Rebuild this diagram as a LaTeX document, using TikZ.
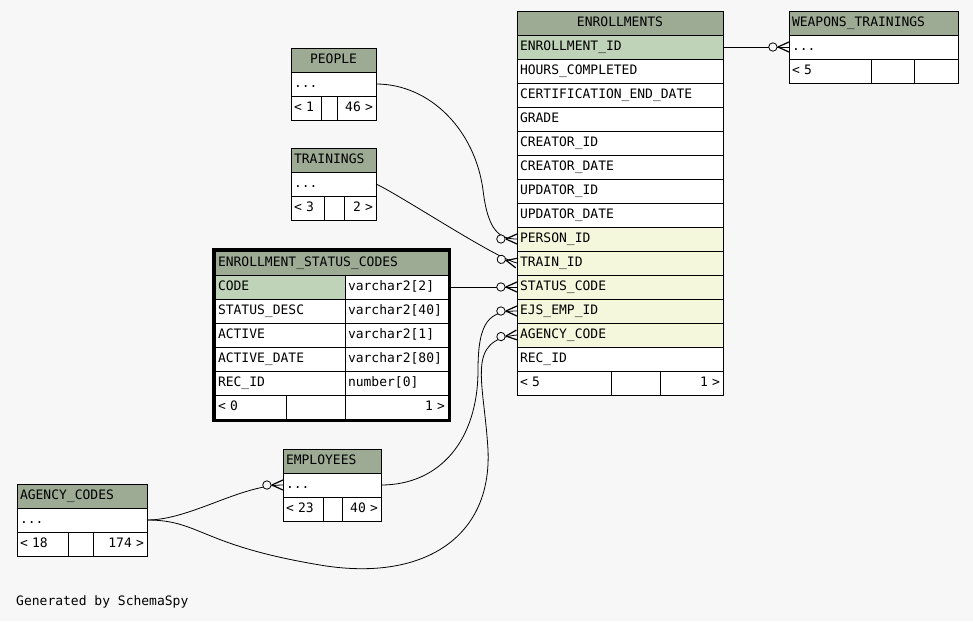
\documentclass[tikz,border=0pt]{standalone}
\usepackage{fontspec}
\newfontfamily\tabfont{DejaVu Sans Mono}
\usetikzlibrary{fit,decorations.markings}
\definecolor{bg}{RGB}{247,247,247}
\definecolor{hd}{RGB}{157,171,149}
\definecolor{pk}{RGB}{191,211,185}
\definecolor{fk}{RGB}{244,247,220}
\tikzset{
  cell/.style={draw, line width=1pt, anchor=north west, inner xsep=3pt, inner ysep=0pt, outer sep=0pt,
    minimum height=24pt, text height=10pt, text depth=3pt, align=left,
    font=\fontsize{13}{15}\tabfont},
  rt/.style={cell, align=right},
  crow/.style={line width=0.8pt, postaction=decorate, decoration={markings, mark=at position -0.1pt with {
    \draw[line width=1.2pt] (-11pt,0) -- (0,5pt) (-11pt,0) -- (0,-5pt);
    \draw[fill=bg, line width=0.8pt] (-16pt,0) circle (4.2pt);}}}
}
% footer row: name, x, y, three text widths, left text, right text
\newcommand\tfoot[8]{
  \node[cell, fill=white, text width=#4pt] (#1-f1) at (#2,#3) {#7};
  \node[cell, fill=white, text width=#5pt] (#1-f2) at (#1-f1.north east) {};
  \node[rt, fill=white, text width=#6pt] (#1-f3) at (#1-f2.north east) {#8};
}
\begin{document}
\begin{tikzpicture}[x=1pt, y=-1pt]
\useasboundingbox[fill=bg] (0,0) rectangle (973,621);

% ENROLLMENTS
\node[cell, fill=hd, text width=200pt, align=center] (en-h) at (517,11) {ENROLLMENTS};
\foreach \c/\t [count=\i] in {pk/ENROLLMENT\_ID, white/HOURS\_COMPLETED, white/CERTIFICATION\_END\_DATE,
    white/GRADE, white/CREATOR\_ID, white/CREATOR\_DATE, white/UPDATOR\_ID, white/UPDATOR\_DATE,
    fk/PERSON\_ID, fk/TRAIN\_ID, fk/STATUS\_CODE, fk/EJS\_EMP\_ID, fk/AGENCY\_CODE, white/REC\_ID}
  \node[cell, fill=\c, text width=200pt] (en-\i) at (517,11+24*\i) {\t};
\tfoot{en}{517}{371}{88}{43}{57}{< 5}{1 >}

% WEAPONS_TRAININGS
\node[cell, fill=hd, text width=163pt] (wt-h) at (789,11) {WEAPONS\_TRAININGS};
\node[cell, fill=white, text width=163pt] (wt-r) at (789,35) {...};
\tfoot{wt}{789}{59}{76}{37}{38}{< 5}{}

% PEOPLE, TRAININGS
\node[cell, fill=hd, text width=79pt, align=center] (pe-h) at (291,48) {PEOPLE};
\node[cell, fill=white, text width=79pt] (pe-r) at (291,72) {...};
\tfoot{pe}{291}{96}{24}{10}{33}{< 1}{46 >}
\node[cell, fill=hd, text width=79pt] (tr-h) at (291,148) {TRAININGS};
\node[cell, fill=white, text width=79pt] (tr-r) at (291,172) {...};
\tfoot{tr}{291}{196}{27}{14}{26}{< 3}{2 >}

% ENROLLMENT_STATUS_CODES
\node[cell, fill=hd, text width=227pt] (es-h) at (215,251) {ENROLLMENT\_STATUS\_CODES};
\node[cell, fill=pk, text width=124pt] (es-1-a) at (215,275) {CODE};
\node[cell, fill=white, text width=97pt] (es-1-b) at (es-1-a.north east) {varchar2[2]};
\foreach \fld/\typ [count=\i from 2] in {STATUS\_DESC/varchar2[40], ACTIVE/varchar2[1],
    ACTIVE\_DATE/varchar2[80], REC\_ID/number[0]}{
  \node[cell, fill=white, text width=124pt] (es-\i-a) at (215,251+24*\i) {\fld};
  \node[cell, fill=white, text width=97pt] (es-\i-b) at (es-\i-a.north east) {\typ};
}
\tfoot{es}{215}{395}{65}{53}{97}{< 0}{1 >}
\node[draw, line width=3pt, inner sep=1.5pt, outer sep=0pt, fit=(es-h)(es-f3)] (es) {};

% EMPLOYEES, AGENCY_CODES
\node[cell, fill=hd, text width=92pt] (em-h) at (283,449) {EMPLOYEES};
\node[cell, fill=white, text width=92pt] (em-r) at (283,473) {...};
\tfoot{em}{283}{497}{34}{13}{33}{< 23}{40 >}
\node[cell, fill=hd, text width=124pt] (ag-h) at (17,484) {AGENCY\_CODES};
\node[cell, fill=white, text width=124pt] (ag-r) at (17,508) {...};
\tfoot{ag}{17}{532}{45}{19}{48}{< 18}{174 >}

\node[anchor=west, inner sep=0pt, font=\fontsize{13}{15}\tabfont] (gen) at (16,602) {Generated by SchemaSpy};

% relations
\draw[crow] (en-1.east) -- (wt-r.west);
\draw[crow] (pe-r.east) .. controls (430,84) and (475,130) .. (483,190)
  .. controls (488,232) and (500,239) .. (en-9.west);
\draw[crow] (tr-r.east) .. controls (400,195) and (495,258) .. (en-10.west);
\draw[crow] (es-1-b.east) -- (en-11.west);
\draw[crow] (em-r.east) .. controls (440,485) and (478,440) .. (478,370)
  .. controls (478,320) and (490,311) .. (en-12.west);
\draw[crow] (ag-r.east) .. controls (200,520) and (200,545) .. (320,565)
  .. controls (420,582) and (492,540) .. (488,450)
  .. controls (484,380) and (465,340) .. (en-13.west);
\draw[crow] (ag-r.east) .. controls (190,520) and (240,485) .. (em-r.west);
\end{tikzpicture}
\end{document}
